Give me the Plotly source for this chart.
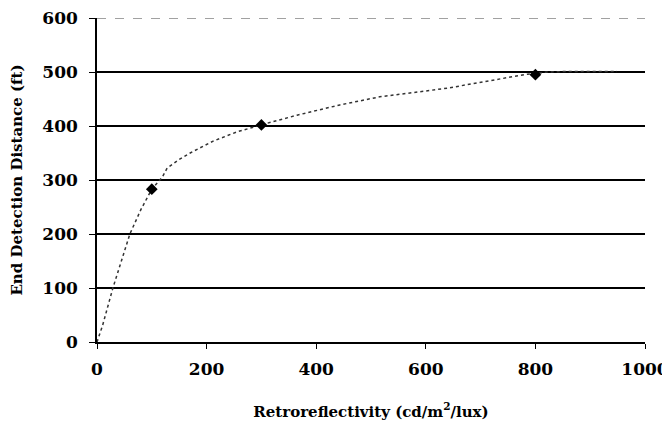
import plotly.graph_objects as go

# Measured data points (markers)
meas_x = [100, 300, 800]
meas_y = [283, 402, 495]

# Dotted trend curve
curve_x = [0, 10, 29, 45, 60, 80, 100, 119, 128, 150, 170, 212, 255, 303, 365, 443, 516, 639, 730, 785, 800, 821, 860, 949]
curve_y = [0, 30, 100, 150, 200, 245, 283, 305, 322, 338, 350, 372, 389, 403, 420, 439, 454, 470, 487, 496, 497, 500, 501, 501]

x_ticks = [0, 200, 400, 600, 800, 1000]
y_ticks = [0, 100, 200, 300, 400, 500, 600]

font_family = "DejaVu Serif, Liberation Serif, serif"

fig = go.Figure()
fig.add_trace(go.Scatter(
    x=curve_x, y=curve_y, mode="lines",
    line=dict(color="#333333", width=1.5, dash="dot"),
    hoverinfo="skip", showlegend=False,
))
fig.add_trace(go.Scatter(
    x=meas_x, y=meas_y, mode="markers",
    marker=dict(symbol="diamond", size=9, color="black"),
    showlegend=False,
))

# top (600) line is faint and broken in the reference: mask solid grid, draw dashed
fig.add_hline(y=600, line=dict(color="white", width=3), layer="above")
fig.add_hline(y=600, line=dict(color="#444444", width=1, dash="dash"), layer="above")

tickfont = dict(family=font_family, size=17, color="black", weight="bold")

fig.update_layout(
    width=662, height=437,
    margin=dict(l=89, r=25, t=10, b=103),
    paper_bgcolor="white", plot_bgcolor="white",
    font=dict(family=font_family, size=15, color="black"),
    xaxis=dict(
        range=[0, 1000], tickvals=x_ticks, ticktext=[str(v) for v in x_ticks],
        showgrid=False, zeroline=False, automargin=False,
        showline=True, linecolor="black", linewidth=1.5,
        ticks="outside", ticklen=5, tickcolor="black",
        ticklabelstandoff=6, ticklabeloverflow="allow",
        tickfont=tickfont,
        title=dict(text="<b>Retroreflectivity (cd/m<sup>2</sup>/lux)</b>",
                   font=dict(family=font_family, size=15, color="black"), standoff=28),
    ),
    yaxis=dict(
        range=[0, 600], tickvals=y_ticks, ticktext=[str(v) for v in y_ticks],
        showgrid=True, gridcolor="black", gridwidth=1.5,
        zeroline=False, automargin=False,
        showline=True, linecolor="black", linewidth=1.5,
        ticks="outside", ticklen=6, tickcolor="black",
        ticklabelstandoff=8, ticklabeloverflow="allow",
        tickfont=tickfont,
        title=dict(text="<b>End Detection Distance (ft)</b>",
                   font=dict(family=font_family, size=15, color="black"), standoff=26),
    ),
)

fig.write_html("out.html")
